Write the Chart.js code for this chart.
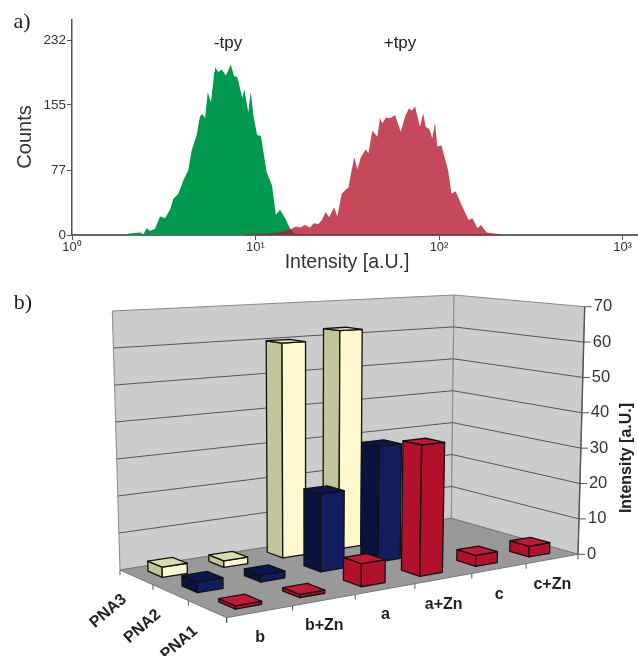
<!DOCTYPE html>
<html>
<head>
<meta charset="utf-8">
<script src="https://cdn.jsdelivr.net/npm/chart.js@4"></script>
<style>
  body { margin: 0; background: #fff; }
  canvas { position: absolute; left: 0; filter: blur(0.6px); }
  #histChart { top: 0; }
  #barChart { top: 280px; }
</style>
</head>
<body>
<canvas id="histChart" width="638" height="280"></canvas>
<canvas id="barChart" width="638" height="376"></canvas>
<script>
// panel a, histogram outlines
const greenIntensity = [1.94, 2.12, 2.35, 2.45, 2.55, 2.66, 2.83, 3.02, 3.21, 3.42, 3.56, 3.8, 4.04, 4.3, 4.49, 4.78, 4.98, 5.13, 5.31, 5.49, 5.72, 5.96, 6.01, 6.27, 6.54, 6.9, 7.33, 7.64, 7.96, 8.47, 8.69, 9.14, 9.42, 9.73, 10.2, 10.7, 11.5, 12.3, 12.9, 13.6, 14.5, 15.4, 16.1, 16.6];
const greenCounts = [1, 2, 3, 1, 8, 5, 7, 22, 20, 30, 43, 49, 65, 77, 101, 119, 141, 144, 139, 170, 158, 194, 200, 194, 197, 190, 203, 189, 188, 163, 173, 146, 171, 143, 119, 118, 75, 59, 24, 30, 20, 8, 3, 1];
const redIntensity = [8.55, 12, 14.1, 15.6, 16.6, 17.5, 18.6, 19.8, 20.8, 22, 23, 24.1, 25.2, 26.8, 27.9, 29.5, 32.1, 34.5, 35.9, 37.4, 39.9, 41.2, 43.3, 46.1, 47.7, 49.1, 51.4, 54.1, 57.6, 61.8, 65.3, 68.6, 71, 74, 78.7, 82, 84.6, 88.6, 91.9, 95.1, 97.9, 103, 112, 117, 123, 133, 145, 152, 162, 169, 182, 215];
const redCounts = [1, 2, 4, 7, 10, 9, 12, 9, 14, 13, 18, 27, 21, 33, 22, 49, 57, 93, 78, 92, 102, 97, 124, 117, 139, 133, 140, 139, 143, 123, 141, 151, 148, 153, 129, 145, 129, 126, 115, 134, 105, 107, 77, 49, 52, 35, 18, 20, 8, 12, 3, 1];
const histXTicks = [1, 10, 100, 1000];
const histXTickLabels = ['10⁰', '10¹', '10²', '10³'];
const histYTicks = [0, 77, 155, 232];

// panel b
const categories = ['b', 'b+Zn', 'a', 'a+Zn', 'c', 'c+Zn'];
const rowLabels = ['PNA3', 'PNA2', 'PNA1'];
const pna1Values = [0.8, 0.8, 6, 35, 3, 3];
const pna2Values = [2.7, 1.8, 21, 32, 0, 0];
const pna3Values = [2.7, 1.8, 60, 62.5, 0, 0];

const sans = '"Liberation Sans", Arial, sans-serif';
const serif = '"Liberation Serif", "Times New Roman", serif';

// plain text on top of a chart
function drawText(ctx, text, x, y, font, color, angle) {
  ctx.save();
  ctx.translate(x, y);
  ctx.rotate(angle || 0);
  ctx.font = font;
  ctx.fillStyle = color;
  ctx.textAlign = 'center';
  ctx.textBaseline = 'middle';
  ctx.fillText(text, 0, 0);
  ctx.restore();
}

const histText = {
  id: 'histText',
  afterDraw(chart) {
    const ctx = chart.ctx;
    drawText(ctx, 'a)', 22, 22, '22px ' + serif, '#222');
    drawText(ctx, '-tpy', 228, 43, '17px ' + sans, '#222');
    drawText(ctx, '+tpy', 400, 43, '17px ' + sans, '#222');
    drawText(ctx, 'Intensity [a.U.]', 347, 263, '19.5px ' + sans, '#333');
    drawText(ctx, 'Counts', 25, 137, '20px ' + sans, '#333', -Math.PI / 2);
  }
};

new Chart(document.getElementById('histChart'), {
  type: 'scatter',
  data: {
    datasets: [
      {
        label: '+tpy',
        data: redIntensity.map((x, i) => ({ x: x, y: redCounts[i] })),
        showLine: true,
        fill: 'origin',
        borderWidth: 0,
        pointRadius: 0,
        backgroundColor: 'rgba(181,20,45,0.78)'
      },
      {
        label: '-tpy',
        data: greenIntensity.map((x, i) => ({ x: x, y: greenCounts[i] })),
        showLine: true,
        fill: 'origin',
        borderWidth: 0,
        pointRadius: 0,
        backgroundColor: '#00994d'
      }
    ]
  },
  options: {
    responsive: false,
    animation: false,
    layout: { padding: { top: 20 } },
    plugins: { legend: { display: false }, tooltip: { enabled: false } },
    scales: {
      x: {
        type: 'logarithmic',
        min: 1,
        max: 1214,
        z: 1,
        afterFit(scale) { scale.height = 45; },
        afterBuildTicks(scale) { scale.ticks = histXTicks.map(v => ({ value: v, major: true })); },
        grid: { drawOnChartArea: false, tickLength: 5, color: '#555' },
        border: { color: '#666', width: 2 },
        ticks: {
          autoSkip: false,
          maxRotation: 0,
          padding: 0,
          color: '#333',
          font: { family: sans, size: 13 },
          callback: (v) => histXTickLabels[histXTicks.indexOf(v)]
        }
      },
      y: {
        min: 0,
        max: 256,
        z: 1,
        afterFit(scale) { scale.width = 72; },
        afterBuildTicks(scale) { scale.ticks = histYTicks.map(v => ({ value: v })); },
        grid: { drawOnChartArea: false, tickLength: 5, color: '#555' },
        border: { color: '#555', width: 1.5 },
        ticks: { padding: 1, color: '#333', font: { family: sans, size: 13.5 } }
      }
    }
  },
  plugins: [histText]
});

// perspective box of the 3d chart, in canvas pixels: back left, back right, front right, front left
const floorQuad = [[120, 290], [451.3, 238.3], [578, 274.3], [226.7, 337.7]];
const ceilingQuad = [[112.3, 31], [454, 15], [584.7, 26.7], [222, 47]];

// unit square to quad homography
function quadMap(p) {
  const dx1 = p[1][0] - p[2][0], dx2 = p[3][0] - p[2][0], sx = p[0][0] - p[1][0] + p[2][0] - p[3][0];
  const dy1 = p[1][1] - p[2][1], dy2 = p[3][1] - p[2][1], sy = p[0][1] - p[1][1] + p[2][1] - p[3][1];
  const den = dx1 * dy2 - dx2 * dy1;
  const g = (sx * dy2 - dx2 * sy) / den;
  const h = (dx1 * sy - sx * dy1) / den;
  const a = p[1][0] - p[0][0] + g * p[1][0], b = p[3][0] - p[0][0] + h * p[3][0];
  const d = p[1][1] - p[0][1] + g * p[1][1], e = p[3][1] - p[0][1] + h * p[3][1];
  return (u, v) => {
    const q = g * u + h * v + 1;
    return [(a * u + b * v + p[0][0]) / q, (d * u + e * v + p[0][1]) / q];
  };
}
const floorMap = quadMap(floorQuad);
const ceilingMap = quadMap(ceilingQuad);

// u along categories, v from back to front, w height 0..1
function project(u, v, w) {
  const f = floorMap(u, v), c = ceilingMap(u, v);
  return [f[0] + (c[0] - f[0]) * w, f[1] + (c[1] - f[1]) * w];
}

function poly(ctx, pts, fill, stroke) {
  ctx.beginPath();
  pts.forEach((p, i) => (i ? ctx.lineTo(p[0], p[1]) : ctx.moveTo(p[0], p[1])));
  ctx.closePath();
  if (fill) { ctx.fillStyle = fill; ctx.fill(); }
  if (stroke) { ctx.strokeStyle = stroke; ctx.stroke(); }
}

// bar controller that paints its bars as boxes in the perspective above
class Bar3dController extends Chart.BarController {
  draw() {
    const chart = this.chart;
    const ctx = chart.ctx;
    const area = chart.chartArea;
    const ds = this.getDataset();
    const zScale = chart.scales.z;
    const band = zScale.height / rowLabels.length;
    const vMid = (zScale.getPixelForValue(ds.label) - zScale.top) / zScale.height;
    const depth = 0.43 * band / zScale.height;
    const v0 = vMid - depth / 2, v1 = vMid + depth / 2;
    const bars = this.getMeta().data;
    ctx.save();
    ctx.lineWidth = 1.3;
    ctx.lineJoin = 'round';
    // right to left, the far ones first
    for (let i = bars.length - 1; i >= 0; i--) {
      const bar = bars[i];
      if (ds.data[i] <= 0) continue;
      const u0 = (bar.x - bar.width / 2 - area.left) / area.width;
      const u1 = (bar.x + bar.width / 2 - area.left) / area.width;
      const w = (bar.base - bar.y) / area.height;
      poly(ctx, [project(u0, v0, 0), project(u0, v1, 0), project(u0, v1, w), project(u0, v0, w)], ds.sideColor, '#111');
      poly(ctx, [project(u0, v1, 0), project(u1, v1, 0), project(u1, v1, w), project(u0, v1, w)], ds.frontColor, '#111');
      poly(ctx, [project(u0, v0, w), project(u1, v0, w), project(u1, v1, w), project(u0, v1, w)], ds.topColor, '#111');
    }
    ctx.restore();
  }
}
Bar3dController.id = 'bar3d';
Bar3dController.defaults = Chart.BarController.defaults;
Chart.register(Bar3dController);

const room = {
  id: 'room',
  beforeDatasetsDraw(chart) {
    const ctx = chart.ctx;
    const yScale = chart.scales.y;
    const xScale = chart.scales.x;
    const zScale = chart.scales.z;
    const line = (a, b, color, width) => {
      ctx.beginPath();
      ctx.moveTo(a[0], a[1]);
      ctx.lineTo(b[0], b[1]);
      ctx.strokeStyle = color;
      ctx.lineWidth = width;
      ctx.stroke();
    };
    ctx.save();
    poly(ctx, [project(0, 0, 0), project(1, 0, 0), project(1, 0, 1), project(0, 0, 1)], '#cccccc', '#8a8a8a');
    poly(ctx, [project(1, 0, 0), project(1, 1, 0), project(1, 1, 1), project(1, 0, 1)], '#cccccc', '#8a8a8a');
    poly(ctx, [project(0, 0, 0), project(1, 0, 0), project(1, 1, 0), project(0, 1, 0)], '#999999', '#777');

    // grid lines on the walls and the value axis
    yScale.ticks.forEach(t => {
      const w = (yScale.bottom - yScale.getPixelForValue(t.value)) / yScale.height;
      const left = project(0, 0, w), corner = project(1, 0, w), right = project(1, 1, w);
      if (t.value > 0 && t.value < yScale.max) {
        line(left, corner, '#555', 1);
        line(corner, right, '#555', 1);
      }
      line(right, [right[0] + 7, right[1]], '#555', 1);
      ctx.font = '16.5px ' + sans;
      ctx.fillStyle = '#333';
      ctx.textAlign = 'left';
      ctx.textBaseline = 'middle';
      ctx.fillText(t.value, right[0] + 9, right[1]);
    });
    line(project(1, 1, 0), project(1, 1, 1), '#555', 1.4);

    // category ticks and labels along the front edge
    const labels = xScale.getLabels();
    for (let i = 0; i <= labels.length; i++) {
      const p = project(i / labels.length, 1, 0);
      line(p, [p[0], p[1] + 5], '#555', 1);
    }
    labels.forEach((label, i) => {
      const u = (xScale.getPixelForValue(i) - xScale.left) / xScale.width;
      const p = project(u, 1, 0);
      drawText(ctx, label, p[0], p[1] + 26, 'bold 16px ' + sans, '#222');
    });

    // row ticks and labels along the left edge
    const rows = zScale.getLabels();
    for (let i = 0; i <= rows.length; i++) {
      const p = project(0, i / rows.length, 0);
      line(p, [p[0], p[1] + 5], '#555', 1);
    }
    rows.forEach((label) => {
      const v = (zScale.getPixelForValue(label) - zScale.top) / zScale.height;
      const p = project(0, v, 0);
      drawText(ctx, label, p[0] - 28, p[1] + 34, 'bold 16px ' + sans, '#222', -41 * Math.PI / 180);
    });

    drawText(ctx, 'Intensity [a.U.]', 627, 178, 'bold 16px ' + sans, '#222', -Math.PI / 2);
    drawText(ctx, 'b)', 23, 23, '22px ' + serif, '#222');
    ctx.restore();
  }
};

const bar3dBase = { type: 'bar3d', grouped: false, barPercentage: 0.4, categoryPercentage: 1 };

new Chart(document.getElementById('barChart'), {
  data: {
    labels: categories,
    datasets: [
      Object.assign({}, bar3dBase, { label: 'PNA1', data: pna1Values, frontColor: '#b2102b', sideColor: '#b2102b', topColor: '#c01a36' }),
      Object.assign({}, bar3dBase, { label: 'PNA2', data: pna2Values, frontColor: '#111d5e', sideColor: '#0a1240', topColor: '#0c1650' }),
      Object.assign({}, bar3dBase, { label: 'PNA3', data: pna3Values, frontColor: '#fff8cf', sideColor: '#c4c49a', topColor: '#dcdcb4' })
    ]
  },
  options: {
    responsive: false,
    animation: false,
    plugins: { legend: { display: false }, tooltip: { enabled: false } },
    scales: {
      x: { type: 'category', display: false },
      y: { type: 'linear', min: 0, max: 70, display: false, ticks: { stepSize: 10 } },
      z: { type: 'category', axis: 'y', labels: rowLabels, offset: true, display: false }
    }
  },
  plugins: [room]
});
</script>
</body>
</html>
